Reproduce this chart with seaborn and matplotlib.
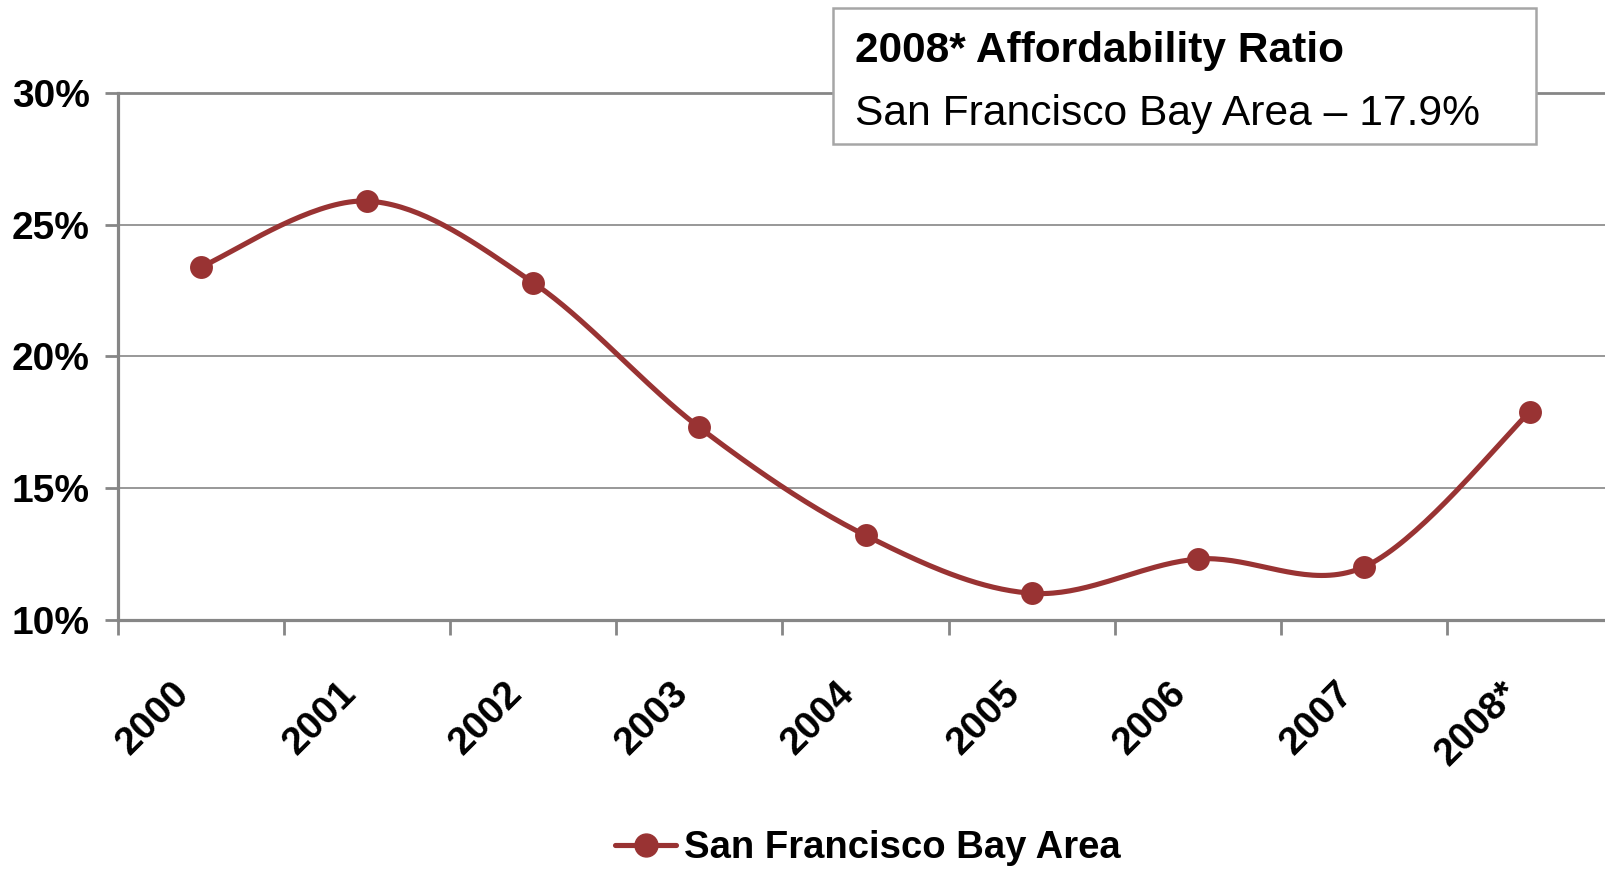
import numpy as np
import pandas as pd
import matplotlib
matplotlib.use("Agg")
import matplotlib.pyplot as plt
from matplotlib.lines import Line2D
from matplotlib.patches import Rectangle
from matplotlib.transforms import ScaledTranslation
import seaborn as sns

# ---- data ----
years = ["2000", "2001", "2002", "2003", "2004", "2005", "2006", "2007", "2008*"]
ratio = [23.4, 25.9, 22.8, 17.3, 13.2, 11.0, 12.3, 12.0, 17.9]
series_name = "San Francisco Bay Area"
yticks = [10, 15, 20, 25, 30]
box_title = "2008* Affordability Ratio"
box_text = "San Francisco Bay Area \u2013 17.9%"

LINE = "#993333"
GRAY = "#868686"

sns.set_theme(style="white")
plt.rcParams["font.family"] = ["Liberation Sans", "DejaVu Sans"]
plt.rcParams["text.color"] = "black"
plt.rcParams["xtick.labelcolor"] = "black"
plt.rcParams["ytick.labelcolor"] = "black"

fig = plt.figure(figsize=(16.06, 8.69), dpi=100)
ax = fig.add_axes([0.07335, 0.2870, 0.9267, 0.6058])

# smoothed curve (Catmull-Rom through the data points, like Excel's smoothed line)
xi = np.arange(len(ratio), dtype=float)
yi = np.array(ratio, dtype=float)
px = np.concatenate([[xi[0]], xi, [xi[-1]]])
py = np.concatenate([[yi[0]], yi, [yi[-1]]])
cx, cy = [], []
t = np.linspace(0, 1, 40)
for i in range(1, len(px) - 2):
    p0x, p1x, p2x, p3x = px[i - 1], px[i], px[i + 1], px[i + 2]
    p0y, p1y, p2y, p3y = py[i - 1], py[i], py[i + 1], py[i + 2]
    b1x, b1y = p1x + (p2x - p0x) / 6, p1y + (p2y - p0y) / 6
    b2x, b2y = p2x - (p3x - p1x) / 6, p2y - (p3y - p1y) / 6
    bx = (1 - t) ** 3 * p1x + 3 * (1 - t) ** 2 * t * b1x + 3 * (1 - t) * t ** 2 * b2x + t ** 3 * p2x
    by = (1 - t) ** 3 * p1y + 3 * (1 - t) ** 2 * t * b1y + 3 * (1 - t) * t ** 2 * b2y + t ** 3 * p2y
    cx.extend(bx if i == 1 else bx[1:])
    cy.extend(by if i == 1 else by[1:])
curve = pd.DataFrame({"x": cx, "y": cy})
pts = pd.DataFrame({"x": xi, "y": yi})

sns.lineplot(data=curve, x="x", y="y", sort=False, estimator=None, ax=ax,
             color=LINE, linewidth=3.7, zorder=3, legend=False)
sns.scatterplot(data=pts, x="x", y="y", ax=ax, color=LINE, s=16.5 ** 2,
                edgecolor=LINE, linewidth=0, zorder=4, legend=False)

ax.set_xlim(-0.5, 8.457)
ax.set_ylim(10, 30)
ax.set_xlabel("")
ax.set_ylabel("")

# grid
ax.set_yticks(yticks)
ax.set_yticklabels([f"{v}%" for v in yticks], fontsize=28, fontweight="bold", color="black")
ax.yaxis.grid(True, color=GRAY, linewidth=1.2)
ax.xaxis.grid(False)
ax.set_axisbelow(True)

ax.spines["right"].set_visible(False)
for s in ["left", "bottom", "top"]:
    ax.spines[s].set_visible(True)
    ax.spines[s].set_color(GRAY)
    ax.spines[s].set_linewidth(2.3)
ax.spines["top"].set_linewidth(2.0)

ax.tick_params(axis="y", which="major", direction="out", length=9.4, width=2.0,
               color=GRAY, pad=10.8, left=True)

ax.set_xticks(xi)
ax.set_xticklabels(years, fontsize=28, fontweight="bold", rotation=45, ha="right",
                   color="black")
ax.set_xticks(np.arange(-0.5, len(years) - 0.5, 1.0), minor=True)
ax.tick_params(axis="x", which="major", length=0, pad=40)
ax.tick_params(axis="x", which="minor", direction="out", length=10.8, width=2.0,
               color=GRAY, bottom=True)
offset = ScaledTranslation(-0.04, 0, fig.dpi_scale_trans)
for lab in ax.get_xticklabels():
    lab.set_transform(lab.get_transform() + offset)

# annotation box
fig.patches.append(Rectangle((0.5187, 0.8343), 0.4377, 0.1565, transform=fig.transFigure,
                             facecolor="white", edgecolor="#a6a6a6", linewidth=1.8, zorder=5))
fig.text(0.5324, 0.9290, box_title, fontsize=30.5, fontweight="bold", va="baseline",
         ha="left", zorder=6, color="black")
fig.text(0.5324, 0.8562, box_text, fontsize=30.7, va="baseline", ha="left", zorder=6,
         color="black")

# legend
handle = Line2D([], [], color=LINE, linewidth=3.7, marker="o", markersize=16.5,
                markerfacecolor=LINE, markeredgecolor=LINE, solid_capstyle="round")
fig.legend([handle], [series_name], loc="center", bbox_to_anchor=(0.5405, 0.024),
           frameon=False, prop={"size": 27.5, "weight": "bold"},
           handlelength=1.6, handletextpad=0.2, borderpad=0, borderaxespad=0,
           labelcolor="black")

fig.savefig("out.png", dpi=100)
